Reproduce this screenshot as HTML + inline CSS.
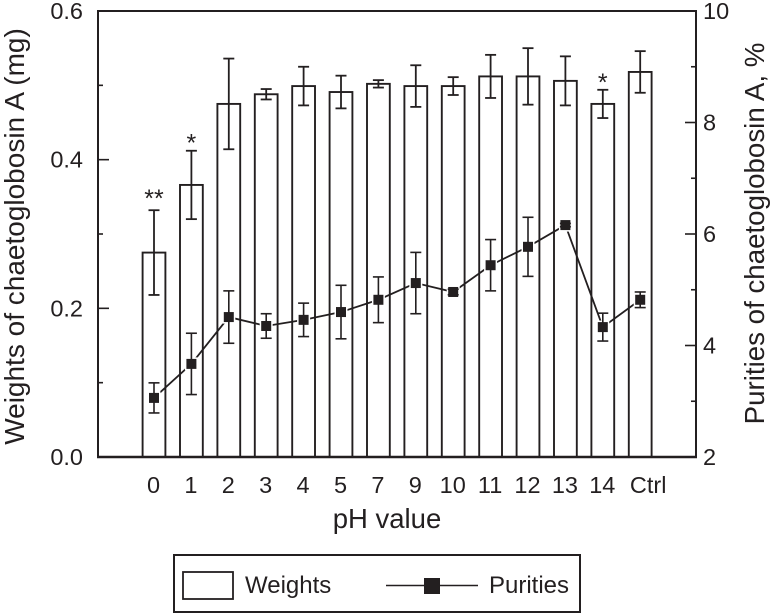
<!DOCTYPE html>
<html lang="en">
<head>
<meta charset="utf-8">
<title>Chaetoglobosin A weights and purities by pH</title>
<style>
html,body{margin:0;padding:0;background:#fff;}
svg{display:block;}
text{font-family:"Liberation Sans",Arial,sans-serif;fill:#231f20;}
</style>
</head>
<body>
<svg id="chart" width="770" height="613" viewBox="0 0 770 613" xmlns="http://www.w3.org/2000/svg">
  <g id="marks"></g>
  <g id="axes"></g>
  <text x="387" y="528" font-size="27.5" text-anchor="middle">pH value</text>
  <text transform="translate(24 236.5) rotate(-90)" font-size="28" text-anchor="middle">Weights of chaetoglobosin A (mg)</text>
  <text transform="translate(764 233.5) rotate(-90)" font-size="27.7" text-anchor="middle">Purities of chaetoglobosin A, %</text>
  <g>
    <rect x="174" y="555" width="406" height="57" fill="#fff" stroke="#231f20" stroke-width="2"/>
    <rect x="183" y="572" width="50" height="27" fill="#fff" stroke="#231f20" stroke-width="1.8"/>
    <text x="245" y="593" font-size="24">Weights</text>
    <line x1="386" y1="585.5" x2="478" y2="585.5" stroke="#231f20" stroke-width="1.5"/>
    <rect x="424" y="578" width="16" height="16" fill="#231f20"/>
    <text x="489" y="593" font-size="24">Purities</text>
  </g>
</svg>
<script>
const categories = ['0','1','2','3','4','5','7','9','10','11','12','13','14','Ctrl'];
const weights = [0.275,0.366,0.475,0.488,0.499,0.491,0.502,0.499,0.499,0.512,0.512,0.506,0.475,0.518];
const weightErrors = [0.057,0.046,0.061,0.007,0.026,0.022,0.005,0.028,0.012,0.029,0.038,0.033,0.019,0.028];
const purities = [3.06,3.67,4.51,4.35,4.46,4.60,4.82,5.12,4.96,5.44,5.77,6.16,4.33,4.82];
const purityErrors = [0.27,0.55,0.47,0.22,0.30,0.48,0.41,0.55,0.05,0.46,0.53,0.03,0.25,0.14];
const significance = ['**','*','','','','','','','','','','','*',''];
const leftTicks = ['0.0','0.2','0.4','0.6'];
const rightTicks = ['2','4','6','8','10'];

const INK = '#231f20';
const SVG_NS = 'http://www.w3.org/2000/svg';
const plot = {left: 98, right: 696, top: 11, bottom: 457};
const xScale = i => 154 + i * 37.4;
const yLeft = v => plot.bottom - (v / 0.6) * (plot.bottom - plot.top);
const yRight = v => plot.bottom - ((v - 2) / 8) * (plot.bottom - plot.top);

function make(parent, tag, attrs) {
  const el = document.createElementNS(SVG_NS, tag);
  for (const k in attrs) el.setAttribute(k, attrs[k]);
  parent.appendChild(el);
  return el;
}

const marks = document.getElementById('marks');
const axes = document.getElementById('axes');

function errorBar(parent, x, yHigh, yLow, capHalf, width) {
  const a = make(parent, 'line', {x1: x, x2: x, y1: yHigh, y2: yLow, stroke: INK, 'stroke-width': width});
  
  
  const b = make(parent, 'line', {x1: x - capHalf, x2: x + capHalf, y1: yHigh, y2: yHigh, stroke: INK, 'stroke-width': width});
  
  
  const c = make(parent, 'line', {x1: x - capHalf, x2: x + capHalf, y1: yLow, y2: yLow, stroke: INK, 'stroke-width': width});
  
  
}

categories.forEach((cat, i) => {
  const x = xScale(i);
  const bar = make(marks, 'rect', {
    x: x - 11.4, y: yLeft(weights[i]), width: 22.8,
    height: plot.bottom - yLeft(weights[i]),
    fill: '#fff', stroke: INK, 'stroke-width': 1.9
  });
  
  
});

categories.forEach((cat, i) => {
  errorBar(marks, xScale(i), yLeft(weights[i] + weightErrors[i]), yLeft(weights[i] - weightErrors[i]), 5.5, 1.8);
  if (significance[i]) {
    const top = yLeft(weights[i] + weightErrors[i]);
    const star = make(marks, 'text', {
      x: xScale(i), y: top + (significance[i].length > 1 ? -3 : 1),
      'font-size': 25, 'text-anchor': 'middle'
    });
    
    
    star.textContent = significance[i];
  }
});

const purityLine = make(marks, 'polyline', {
  points: purities.map((v, i) => xScale(i) + ',' + yRight(v)).join(' '),
  fill: 'none', stroke: INK, 'stroke-width': 1.8
});



purities.forEach((v, i) => {
  const halo = make(marks, 'rect', {
    x: xScale(i) - 6.5, y: yRight(v) - 6.5, width: 13, height: 13, fill: '#fff'
  });
  
  
});

categories.forEach((cat, i) => {
  errorBar(marks, xScale(i), yRight(purities[i] + purityErrors[i]), yRight(purities[i] - purityErrors[i]), 5.5, 1.6);
});

purities.forEach((v, i) => {
  const size = 10;
  const pt = make(marks, 'rect', {
    x: xScale(i) - size / 2, y: yRight(v) - size / 2,
    width: size, height: size, fill: INK
  });
  
  
});

const frame = make(axes, 'path', {
  d: `M${plot.left} ${plot.bottom}V${plot.top}H${plot.right}V${plot.bottom}`,
  fill: 'none', stroke: INK, 'stroke-width': 2
});



const base = make(axes, 'line', {
  x1: plot.left - 1, x2: plot.right + 1, y1: plot.bottom, y2: plot.bottom, stroke: INK, 'stroke-width': 2.4
});



leftTicks.forEach((label, i) => {
  const v = parseFloat(label);
  const y = yLeft(v);
  const t = make(axes, 'line', {x1: plot.left, x2: plot.left + 11, y1: y, y2: y, stroke: INK, 'stroke-width': 1.6});
  
  
  const txt = make(axes, 'text', {x: 83, y: y + 8, 'font-size': 23.5, 'text-anchor': 'end'});
  
  
  txt.textContent = label;
  if (i < leftTicks.length - 1) {
    const m = make(axes, 'line', {x1: plot.left, x2: plot.left + 5, y1: yLeft(v + 0.1), y2: yLeft(v + 0.1), stroke: INK, 'stroke-width': 1.6});
    
    
  }
});

rightTicks.forEach((label, i) => {
  const v = parseFloat(label);
  const y = yRight(v);
  const t = make(axes, 'line', {x1: plot.right - 11, x2: plot.right, y1: y, y2: y, stroke: INK, 'stroke-width': 1.6});
  
  
  const txt = make(axes, 'text', {x: 703, y: y + 8, 'font-size': 23.5});
  
  
  txt.textContent = label;
  if (i < rightTicks.length - 1) {
    const m = make(axes, 'line', {x1: plot.right - 5, x2: plot.right, y1: yRight(v + 1), y2: yRight(v + 1), stroke: INK, 'stroke-width': 1.6});
    
    
  }
});

categories.forEach((cat, i) => {
  const txt = make(axes, 'text', {x: xScale(i) + (cat === 'Ctrl' ? 8 : -0.5), y: 493, 'font-size': 23.5, 'text-anchor': 'middle'});
  
  
  txt.textContent = cat;
});
</script>
</body>
</html>
